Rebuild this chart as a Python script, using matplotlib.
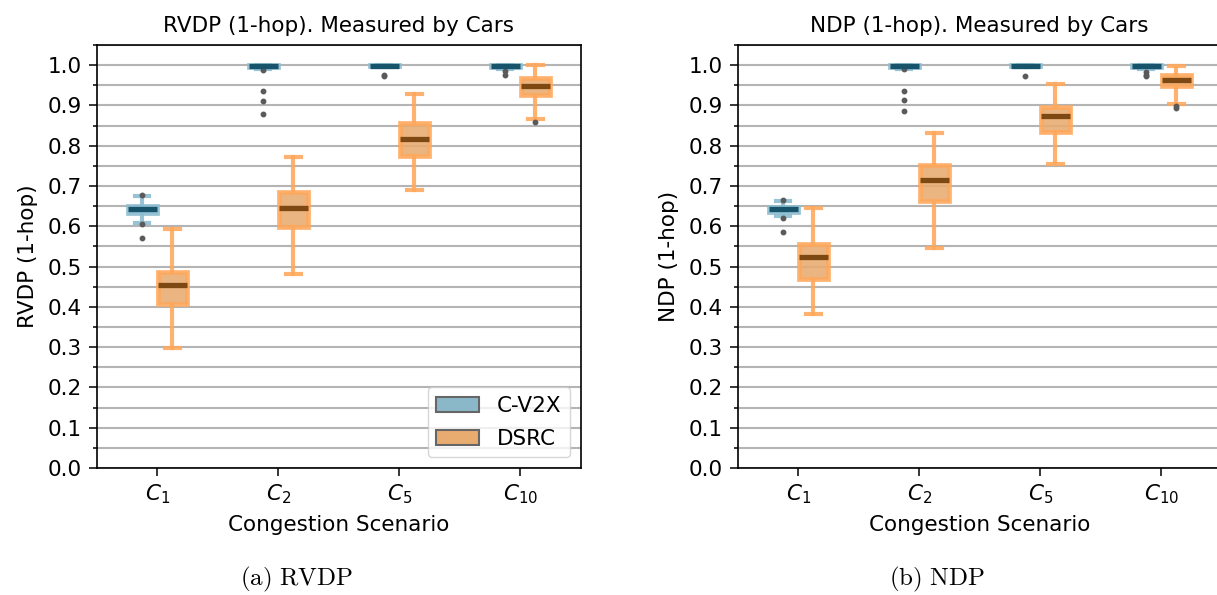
import matplotlib
matplotlib.use("Agg")
import matplotlib.pyplot as plt
from matplotlib.patches import Patch
from matplotlib.ticker import MultipleLocator

plt.rcParams['mathtext.fontset'] = 'dejavusans'

# ---------------- data ----------------
scenarios = [r'$C_{1}$', r'$C_{2}$', r'$C_{5}$', r'$C_{10}$']
technologies = ['C-V2X', 'DSRC']

# RVDP (1-hop) -- C-V2X
rvdp_cv2x_whislo = [0.609, 0.990, 0.995, 0.990]
rvdp_cv2x_q1 = [0.634, 0.995, 0.997, 0.995]
rvdp_cv2x_med = [0.642, 0.998, 0.999, 0.998]
rvdp_cv2x_q3 = [0.651, 1.000, 1.000, 1.000]
rvdp_cv2x_whishi = [0.675, 1.000, 1.000, 1.000]
rvdp_cv2x_fliers = [[0.677, 0.605, 0.570], [0.988, 0.935, 0.912, 0.878],
                    [0.975, 0.973], [0.986, 0.975]]
# RVDP (1-hop) -- DSRC
rvdp_dsrc_whislo = [0.297, 0.481, 0.690, 0.866]
rvdp_dsrc_q1 = [0.406, 0.597, 0.774, 0.927]
rvdp_dsrc_med = [0.455, 0.646, 0.816, 0.948]
rvdp_dsrc_q3 = [0.486, 0.686, 0.857, 0.969]
rvdp_dsrc_whishi = [0.593, 0.772, 0.929, 1.000]
rvdp_dsrc_fliers = [[], [], [], [0.859]]

# NDP (1-hop) -- C-V2X
ndp_cv2x_whislo = [0.625, 0.990, 0.995, 0.990]
ndp_cv2x_q1 = [0.636, 0.995, 0.997, 0.995]
ndp_cv2x_med = [0.642, 0.998, 0.999, 0.998]
ndp_cv2x_q3 = [0.648, 1.000, 1.000, 1.000]
ndp_cv2x_whishi = [0.662, 1.000, 1.000, 1.000]
ndp_cv2x_fliers = [[0.665, 0.621, 0.586], [0.990, 0.935, 0.913, 0.886],
                   [0.974], [0.983, 0.975, 0.973]]
# NDP (1-hop) -- DSRC
ndp_dsrc_whislo = [0.382, 0.545, 0.754, 0.903]
ndp_dsrc_q1 = [0.469, 0.663, 0.835, 0.948]
ndp_dsrc_med = [0.524, 0.715, 0.874, 0.964]
ndp_dsrc_q3 = [0.556, 0.752, 0.897, 0.976]
ndp_dsrc_whishi = [0.646, 0.832, 0.953, 0.998]
ndp_dsrc_fliers = [[], [], [], [0.899, 0.893]]

titles = ['RVDP (1-hop). Measured by Cars', 'NDP (1-hop). Measured by Cars']
ylabels = ['RVDP (1-hop)', 'NDP (1-hop)']
xlabel = 'Congestion Scenario'
captions = [r'$\mathrm{(a)\ RVDP}$', r'$\mathrm{(b)\ NDP}$']

# ---------------- style ----------------
FS = 15.5
cv2x_face = (0.54, 0.72, 0.79, 0.9)
cv2x_edge = (0.55, 0.74, 0.82, 0.9)
cv2x_med = '#17536b'
dsrc_face = (0.91, 0.67, 0.44, 0.88)
dsrc_edge = (1.0, 0.66, 0.36, 0.88)
dsrc_med = '#7d4812'
flier_col = '#5a5a5a'


def make_stats(whislo, q1, med, q3, whishi, fliers):
    return [dict(whislo=a, q1=b, med=c, q3=d, whishi=e, fliers=f)
            for a, b, c, d, e, f in zip(whislo, q1, med, q3, whishi, fliers)]


panels = [
    (make_stats(rvdp_cv2x_whislo, rvdp_cv2x_q1, rvdp_cv2x_med, rvdp_cv2x_q3, rvdp_cv2x_whishi, rvdp_cv2x_fliers),
     make_stats(rvdp_dsrc_whislo, rvdp_dsrc_q1, rvdp_dsrc_med, rvdp_dsrc_q3, rvdp_dsrc_whishi, rvdp_dsrc_fliers)),
    (make_stats(ndp_cv2x_whislo, ndp_cv2x_q1, ndp_cv2x_med, ndp_cv2x_q3, ndp_cv2x_whishi, ndp_cv2x_fliers),
     make_stats(ndp_dsrc_whislo, ndp_dsrc_q1, ndp_dsrc_med, ndp_dsrc_q3, ndp_dsrc_whishi, ndp_dsrc_fliers)),
]

W, H = 1217, 595
fig = plt.figure(figsize=(W / 100, H / 100), dpi=100)
ax_lefts = [96.7 / W, 737.7 / W]
caption_x = [296 / W, 937 / W]
ax_w = 484 / W
ax_b = 1 - 468 / H
ax_h = (468 - 45) / H

x = list(range(len(scenarios)))
offset = 0.125
width = 0.24

for i, (cv_stats, ds_stats) in enumerate(panels):
    ax = fig.add_axes([ax_lefts[i], ax_b, ax_w, ax_h])
    ax.set_axisbelow(True)
    ax.yaxis.set_major_locator(MultipleLocator(0.1))
    ax.yaxis.set_minor_locator(MultipleLocator(0.05))
    ax.grid(True, axis='y', which='both', color='#b4b4b4', linewidth=1.5)
    for stats, face, edge, medc, sgn in [(cv_stats, cv2x_face, cv2x_edge, cv2x_med, -1),
                                          (ds_stats, dsrc_face, dsrc_edge, dsrc_med, 1)]:
        ax.bxp(stats, positions=[p + sgn * offset for p in x], widths=width,
               patch_artist=True, manage_ticks=False,
               boxprops=dict(facecolor=face, edgecolor=edge, linewidth=3.4),
               whiskerprops=dict(color=edge, linewidth=3.0),
               capprops=dict(color=edge, linewidth=3.0),
               medianprops=dict(color=medc, linewidth=3.8, solid_capstyle='butt'),
               flierprops=dict(marker='o', markersize=3.2, markerfacecolor=flier_col,
                               markeredgecolor=flier_col, linestyle='none'))
    ax.set_xlim(-0.5, 3.5)
    ax.set_ylim(0, 1.05)
    ax.set_xticks(x)
    ax.set_xticklabels(scenarios)
    ax.tick_params(axis='both', which='major', labelsize=FS, length=5.5, width=1.1, pad=5)
    ax.tick_params(axis='y', which='minor', length=3.2, width=1.1)
    for s in ax.spines.values():
        s.set_linewidth(1.2)
    ax.set_title(titles[i], fontsize=FS, pad=9)
    ax.set_ylabel(ylabels[i], fontsize=FS, labelpad=7)
    ax.set_xlabel(xlabel, fontsize=FS, labelpad=6)
    if i == 0:
        handles = [Patch(facecolor=cv2x_face[:3], edgecolor='#666666', linewidth=1.5, label=technologies[0]),
                   Patch(facecolor=dsrc_face[:3], edgecolor='#666666', linewidth=1.5, label=technologies[1])]
        ax.legend(handles=handles, loc='lower right', fontsize=FS, labelspacing=0.6)
    fig.text(caption_x[i], 1 - 579 / H, captions[i], ha='center', va='center',
             fontsize=18, math_fontfamily='cm')

fig.savefig('out.png', dpi=100)
